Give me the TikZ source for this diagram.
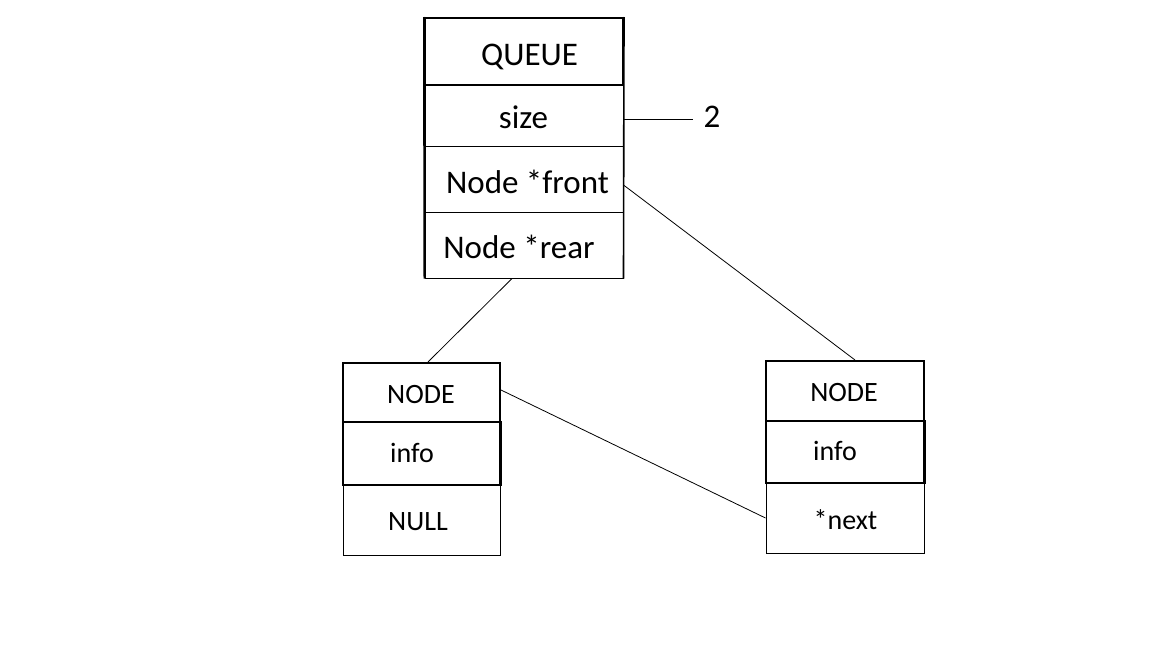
\documentclass[tikz,border=0pt]{standalone}
\usepackage{fontspec}
\setmainfont{Carlito}
\begin{document}
\begin{tikzpicture}[x=1pt,y=-1pt,
  cell/.style={draw=black,line width=1pt,minimum width=#1,inner sep=0pt,rectangle},
  thickcell/.style={draw=black,line width=2pt,inner sep=0pt,rectangle},
  qtxt/.style={anchor=base,inner sep=0pt,font=\fontsize{33}{36}\selectfont},
  ntxt/.style={anchor=base,inner sep=0pt,font=\fontsize{28}{32}\selectfont},
  link/.style={draw=black,line width=0.8pt}]
\useasboundingbox[fill=white] (0,0) rectangle (1152,648);
% QUEUE structure
\node[cell=198pt,minimum height=66pt] (qrear) at (524,245) {};
\node[cell=198pt,minimum height=66pt] (qfront) at (524,179) {};
\node[cell=198pt,minimum height=61pt] (qsize) at (524,115.5) {};
\node[thickcell,minimum width=198pt,minimum height=67pt] (qhead) at (524,51.5) {};
\draw[line width=2pt] (qhead.north west) -- (qrear.south west);
\draw[line width=1.6pt] (qhead.north east) -- (qrear.south east);
\draw[line width=1.2pt] (qrear.south west) -- (qrear.south east);
\node[qtxt] (tq) at (529.5,65) {QUEUE};
\node[qtxt] (ts) at (523.5,128) {size};
\node[qtxt] (tf) at (527.5,193) {Node *front};
\node[qtxt] (tr) at (519,258) {Node *rear};
\node[qtxt] (two) at (712,127) {2};
% left NODE
\node[cell=157pt,minimum height=70pt] (lnull) at (421.5,520) {};
\node[thickcell,minimum width=157pt,minimum height=63pt,line width=1.2pt] (linfo) at (421.5,453.5) {};
\node[thickcell,minimum width=157pt,minimum height=59pt] (lhead) at (421.5,392.5) {};
\draw[line width=2pt] (linfo.north east) -- (linfo.south east);
\node[ntxt] (tln) at (421,403) {NODE};
\node[ntxt] (tli) at (412,462) {info};
\node[ntxt] (tlnull) at (418,530) {NULL};
% right NODE
\node[cell=158pt,minimum height=70pt] (rnext) at (845,518) {};
\node[thickcell,minimum width=158pt,minimum height=62pt,line width=1.2pt] (rinfo) at (845,452) {};
\node[thickcell,minimum width=158pt,minimum height=60pt] (rhead) at (845,391) {};
\draw[line width=2pt] (rinfo.north east) -- (rinfo.south east);
\node[ntxt] (trn) at (844,401) {NODE};
\node[ntxt] (tri) at (835,460) {info};
\node[ntxt] (trx) at (845.5,529) {*next};
% connectors
\draw[link,shorten >=10pt] ([yshift=-3.5pt]qsize.east) -- ([yshift=-3.5pt]qsize.east -| two.west);
\draw[link] ([yshift=-6pt]qfront.east) -- ([xshift=10pt]rhead.north);
\draw[link] ([xshift=-12pt]qrear.south) -- ([xshift=6.5pt]lhead.north);
\draw[link] ([yshift=2.5pt]lhead.east) -- (rnext.west);
\end{tikzpicture}
\end{document}
